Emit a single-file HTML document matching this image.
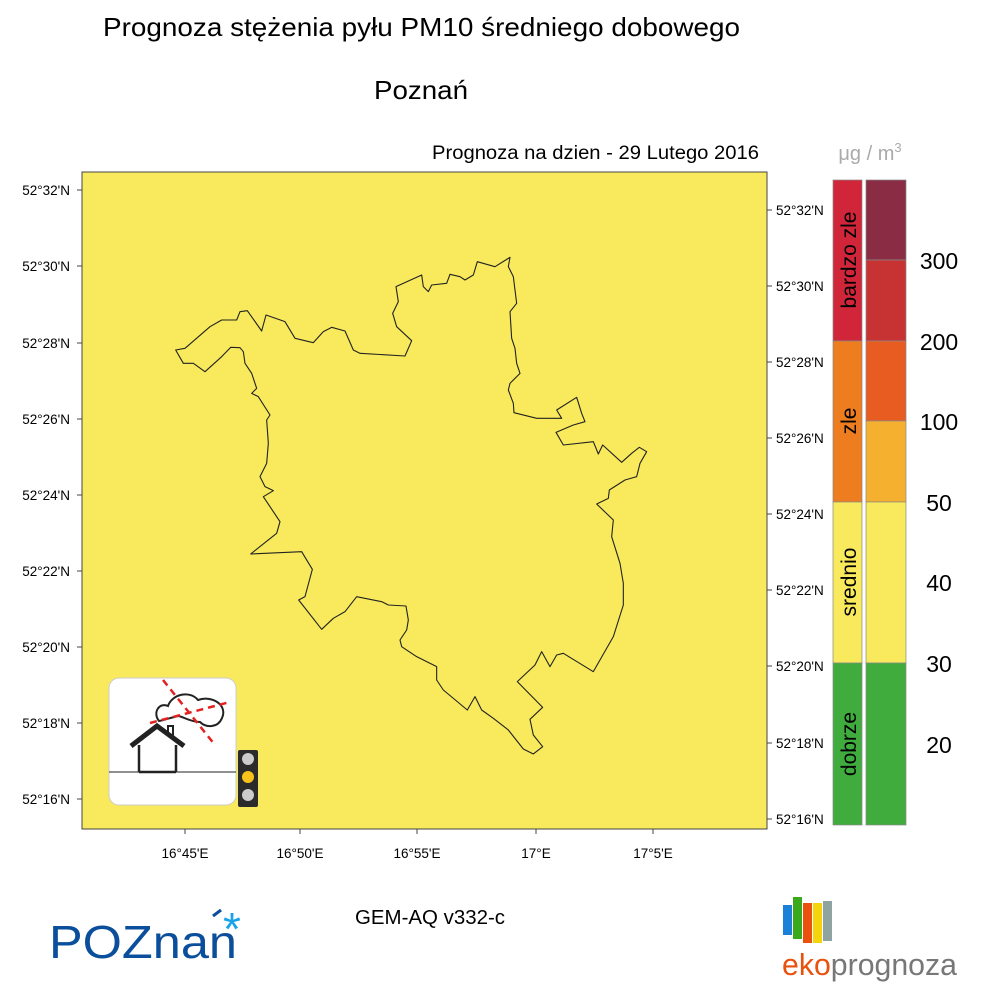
<!DOCTYPE html>
<html><head><meta charset="utf-8"><style>
body{margin:0;background:#fff;}
svg text{font-family:"Liberation Sans",sans-serif;}
</style></head><body>
<svg width="1000" height="1000" viewBox="0 0 1000 1000" xmlns="http://www.w3.org/2000/svg">
<rect width="1000" height="1000" fill="#fff"/>
<text x="103" y="36" font-size="26" textLength="637" lengthAdjust="spacingAndGlyphs">Prognoza stężenia pyłu PM10 średniego dobowego</text>
<text x="374" y="99" font-size="26" textLength="94" lengthAdjust="spacingAndGlyphs">Poznań</text>
<text x="432" y="159" font-size="19" textLength="327" lengthAdjust="spacingAndGlyphs">Prognoza na dzien -  29 Lutego 2016</text>
<text x="870" y="160" font-size="20" fill="#aaa" text-anchor="middle">μg / m<tspan font-size="13" dy="-8">3</tspan></text>
<rect x="82" y="172" width="685" height="657" fill="#f8ea5c" stroke="#444" stroke-width="1"/>
<g transform="translate(160,250) scale(0.33333)">
<polygon fill="none" stroke="#222" stroke-width="3.3" stroke-linejoin="round" points="47,300 75,295 150,230 185,210 230,210 240,185 262,182 305,243 318,195 375,215 405,265 460,278 490,245 515,232 555,243 580,300 600,310 735,318 755,272 710,230 698,190 715,155 708,110 785,75 790,110 805,125 815,105 860,100 870,73 900,80 915,90 940,75 952,35 1005,50 1050,22 1045,50 1060,80 1070,160 1050,185 1055,265 1065,295 1070,340 1080,370 1050,400 1045,420 1060,460 1062,488 1130,505 1205,505 1190,480 1250,442 1265,490 1275,515 1240,525 1188,547 1210,585 1300,575 1315,612 1328,585 1385,637 1415,610 1438,592 1460,605 1440,640 1430,680 1395,690 1348,720 1345,745 1310,762 1360,810 1355,860 1380,940 1390,1000 1390,1065 1360,1160 1300,1265 1210,1210 1190,1215 1170,1250 1145,1205 1125,1245 1072,1295 1148,1372 1110,1408 1120,1455 1148,1490 1120,1512 1090,1497 1045,1440 1000,1405 965,1380 945,1340 922,1380 850,1320 830,1290 830,1250 770,1220 725,1190 720,1170 740,1140 745,1110 738,1068 685,1065 665,1055 590,1040 555,1085 520,1105 485,1138 416,1050 435,1040 457,958 425,905 272,912 350,850 360,815 310,740 340,722 315,710 300,680 320,640 325,580 320,510 330,495 295,440 275,430 290,415 275,370 255,340 250,305 240,293 212,292 185,320 135,365 100,340 70,340"/>
</g>
<!-- icon -->
<rect x="109" y="678" width="127" height="127" rx="10" fill="#fff" stroke="#ccc"/>
<g stroke="#222" fill="none" stroke-width="2.5">
<path d="M139,772 V745 M176,772 V745 M139,772 H176"/>
<path d="M131,746 L157,726 L184,746" stroke-width="5"/>
<path d="M168,732 V726 H173 V737" stroke-width="2"/>
<path d="M159,721 C152,712 160,702 168,706 C172,694 190,690 198,700 C212,695 228,705 222,718 C218,728 206,728 200,722 C190,722 182,716 178,716 C170,718 164,720 159,721Z" stroke-width="2"/>
<path d="M109,772 H236" stroke-width="1"/>
</g>
<g stroke="#e52020" stroke-width="2.5" stroke-dasharray="7,5">
<path d="M163,680 L215,745"/><path d="M150,723 L230,702"/>
</g>
<rect x="238" y="750" width="20" height="57" rx="2" fill="#2b2b2b"/>
<circle cx="248" cy="759" r="6" fill="#ccc"/><circle cx="248" cy="777" r="6" fill="#f7c21a"/><circle cx="248" cy="795" r="6" fill="#ccc"/>
<g font-size="13.5" text-anchor="end" fill="#000">
<text x="70" y="195">52°32'N</text><text x="70" y="271">52°30'N</text><text x="70" y="348">52°28'N</text><text x="70" y="424">52°26'N</text><text x="70" y="500">52°24'N</text><text x="70" y="576">52°22'N</text><text x="70" y="652">52°20'N</text><text x="70" y="728">52°18'N</text><text x="70" y="804">52°16'N</text>
</g>
<g font-size="13.5" text-anchor="start">
<text x="776" y="215">52°32'N</text><text x="776" y="291">52°30'N</text><text x="776" y="367">52°28'N</text><text x="776" y="443">52°26'N</text><text x="776" y="519">52°24'N</text><text x="776" y="595">52°22'N</text><text x="776" y="671">52°20'N</text><text x="776" y="748">52°18'N</text><text x="776" y="824">52°16'N</text>
</g>
<g font-size="13.5" text-anchor="middle">
<text x="185" y="858">16°45'E</text><text x="300" y="858">16°50'E</text><text x="417" y="858">16°55'E</text><text x="536" y="858">17°E</text><text x="653" y="858">17°5'E</text>
</g>
<g stroke="#444">
<path d="M77,190H82M77,266H82M77,343H82M77,419H82M77,495H82M77,571H82M77,647H82M77,723H82M77,799H82"/>
<path d="M767,210H772M767,286H772M767,362H772M767,438H772M767,514H772M767,590H772M767,666H772M767,743H772M767,819H772"/>
<path d="M185,829V834M300,829V834M417,829V834M536,829V834M653,829V834"/>
</g>
<g stroke="#888" stroke-width="0.7">
<rect x="833" y="180" width="29" height="161" fill="#d1263a"/>
<rect x="833" y="341" width="29" height="161" fill="#ee7d1f"/>
<rect x="833" y="502" width="29" height="161" fill="#f8ea5c"/>
<rect x="833" y="663" width="29" height="162" fill="#3fac3d"/>
<rect x="866" y="180" width="40" height="80" fill="#8a2c44"/>
<rect x="866" y="260" width="40" height="81" fill="#c73232"/>
<rect x="866" y="341" width="40" height="80" fill="#e85c22"/>
<rect x="866" y="421" width="40" height="81" fill="#f6b030"/>
<rect x="866" y="502" width="40" height="161" fill="#f8ea5c"/>
<rect x="866" y="663" width="40" height="162" fill="#3fac3d"/>
</g>
<g font-size="21" text-anchor="middle">
<text transform="translate(856,260) rotate(-90)">bardzo zle</text>
<text transform="translate(856,421) rotate(-90)">zle</text>
<text transform="translate(856,582) rotate(-90)">srednio</text>
<text transform="translate(856,744) rotate(-90)">dobrze</text>
</g>
<g font-size="23" text-anchor="middle">
<text x="939" y="269">300</text><text x="939" y="350">200</text><text x="939" y="430">100</text><text x="939" y="511">50</text><text x="939" y="591">40</text><text x="939" y="672">30</text><text x="939" y="753">20</text>
</g>
<text x="355" y="924" font-size="20" textLength="150" lengthAdjust="spacingAndGlyphs">GEM-AQ v332-c</text>
<text x="49" y="958" font-size="46" fill="#0b4f9c" textLength="188" lengthAdjust="spacingAndGlyphs">POZnan</text>
<text x="223" y="945" font-size="46" fill="#1aa3e8">*</text>
<path d="M213,916 L221,910" stroke="#0b4f9c" stroke-width="3"/>
<rect x="783" y="905" width="9" height="30" fill="#1c7fd8"/>
<rect x="793" y="897" width="9" height="42" fill="#3aaa1c"/>
<rect x="803" y="903" width="9" height="40" fill="#e8510e"/>
<rect x="813" y="903" width="9" height="40" fill="#f4d40a"/>
<rect x="823" y="901" width="9" height="40" fill="#8fa3a0"/>
<text x="782" y="975" font-size="31" fill="#e8510e" textLength="175" lengthAdjust="spacingAndGlyphs">eko<tspan fill="#777">prognoza</tspan></text>
</svg>
</body></html>
